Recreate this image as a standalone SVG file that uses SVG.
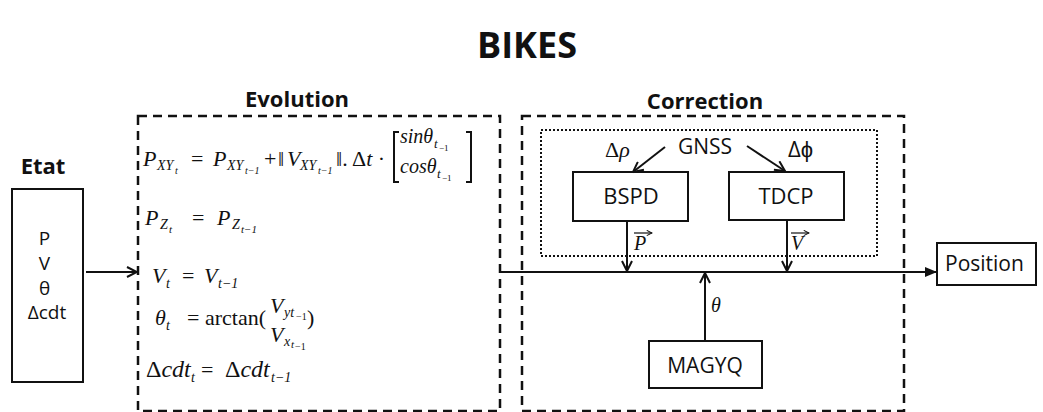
<svg xmlns="http://www.w3.org/2000/svg" width="1043" height="412" viewBox="0 0 1043 412">
<style>
.lbl{font-family:"Open Sans","Liberation Sans",sans-serif;fill:#111}
.hd{font-family:"Open Sans","Liberation Sans",sans-serif;font-weight:bold;fill:#111}
.m{font-family:"Liberation Serif","DejaVu Serif",serif;font-style:italic;fill:#111}
.mr{font-family:"Liberation Serif","DejaVu Serif",serif;fill:#111}
.box{fill:#fff;stroke:#111;stroke-width:2}
.dash{fill:none;stroke:#111;stroke-width:2.5;stroke-dasharray:9 6}
.dot{fill:none;stroke:#111;stroke-width:2;stroke-dasharray:2 2}
.ln{fill:none;stroke:#111;stroke-width:2}
</style>
<defs>
<marker id="open" viewBox="0 0 12 12" refX="11" refY="6" markerWidth="12" markerHeight="12" markerUnits="userSpaceOnUse" orient="auto">
<path d="M1,1 L11,6 L1,11" fill="none" stroke="#111" stroke-width="2"/>
</marker>
<marker id="fill" viewBox="0 0 12 12" refX="11" refY="6" markerWidth="12" markerHeight="12" markerUnits="userSpaceOnUse" orient="auto">
<path d="M0,1 L12,6 L0,11 Z" fill="#111"/>
</marker>
<marker id="small" viewBox="0 0 8 8" refX="7" refY="4" markerWidth="7" markerHeight="7" markerUnits="userSpaceOnUse" orient="auto">
<path d="M1,1 L7,4 L1,7" fill="none" stroke="#111" stroke-width="1.2"/>
</marker>
</defs>

<text class="hd" x="527" y="58" font-size="36" text-anchor="middle">BIKES</text>

<g id="etat">
<text class="hd" x="43" y="174" font-size="22" text-anchor="middle">Etat</text>
<rect class="box" x="12" y="189" width="71" height="193"/>
<text class="lbl" font-size="19" text-anchor="middle">
<tspan x="47" y="245">P</tspan>
<tspan x="47" y="270">V</tspan>
<tspan x="47" y="295">θ</tspan>
<tspan x="47" y="319">Δcdt</tspan>
</text>
</g>

<g id="evolution">
<text class="hd" x="297" y="107" font-size="22" text-anchor="middle">Evolution</text>
<rect class="dash" x="138" y="116" width="362" height="295"/>
<!-- line 1 -->
<text class="m" x="143" y="166" font-size="22">P</text>
<text class="m" x="157" y="170" font-size="14">XY</text>
<text class="m" x="175" y="174" font-size="10">t</text>
<text class="mr" x="191" y="166" font-size="22">=</text>
<text class="m" x="213" y="166" font-size="22">P</text>
<text class="m" x="227" y="170" font-size="14">XY</text>
<text class="m" x="245" y="174" font-size="10">t−1</text>
<text class="mr" x="264" y="166" font-size="22">+</text>
<text class="mr" x="278" y="166" font-size="22">‖</text>
<text class="m" x="287" y="166" font-size="22">V</text>
<text class="m" x="300" y="170" font-size="14">XY</text>
<text class="m" x="318" y="174" font-size="10">t−1</text>
<text class="mr" x="336" y="166" font-size="22">‖. Δ<tspan font-style="italic">t</tspan> ·</text>
<path class="ln" d="M399,132 H394 V182 H399" stroke-width="1.5"/>
<path class="ln" d="M466,132 H471 V182 H466" stroke-width="1.5"/>
<text class="m" x="400" y="143" font-size="20">sinθ</text>
<text class="m" x="434" y="148" font-size="13">t</text>
<text class="mr" x="439" y="151" font-size="9">−1</text>
<text class="m" x="400" y="173" font-size="20">cosθ</text>
<text class="m" x="437" y="178" font-size="13">t</text>
<text class="mr" x="442" y="181" font-size="9">−1</text>
<!-- line 2 -->
<text class="m" x="145" y="225" font-size="22">P</text>
<text class="m" x="160" y="229" font-size="14">Z</text>
<text class="m" x="169" y="233" font-size="11">t</text>
<text class="mr" x="192" y="225" font-size="22">=</text>
<text class="m" x="217" y="225" font-size="22">P</text>
<text class="m" x="232" y="229" font-size="14">Z</text>
<text class="m" x="241" y="233" font-size="11">t−1</text>
<!-- line 3 -->
<text class="m" x="152" y="283" font-size="22">V</text>
<text class="m" x="166" y="288" font-size="14">t</text>
<text class="mr" x="182" y="283" font-size="22">=</text>
<text class="m" x="204" y="283" font-size="22">V</text>
<text class="m" x="218" y="288" font-size="14">t−1</text>
<!-- line 4 -->
<text class="m" x="155" y="325" font-size="22">θ</text>
<text class="m" x="166" y="330" font-size="14">t</text>
<text class="mr" x="187" y="325" font-size="22">=</text>
<text class="mr" x="205" y="325" font-size="22">arctan(</text>
<text class="m" x="270" y="313" font-size="22">V</text>
<text class="m" x="284" y="317" font-size="14">yt</text>
<text class="mr" x="296" y="320" font-size="10">−1</text>
<text class="m" x="270" y="342" font-size="22">V</text>
<text class="m" x="284" y="346" font-size="14">x</text>
<text class="m" x="291" y="348" font-size="11">t</text>
<text class="mr" x="295" y="350" font-size="10">−1</text>
<text class="mr" x="307" y="325" font-size="22">)</text>
<!-- line 5 -->
<text class="mr" x="146" y="377" font-size="24">Δ<tspan font-style="italic">cdt</tspan></text>
<text class="m" x="191" y="382" font-size="14">t</text>
<text class="mr" x="201" y="377" font-size="22">=</text>
<text class="mr" x="225" y="377" font-size="24">Δ<tspan font-style="italic">cdt</tspan></text>
<text class="m" x="271" y="382" font-size="14">t−1</text>
</g>

<g id="correction">
<text class="hd" x="705" y="109" font-size="22" text-anchor="middle">Correction</text>
<rect class="dash" x="522" y="116" width="382" height="295"/>
<rect class="dot" x="541" y="130" width="336" height="126"/>
</g>

<g id="gnss">
<text class="lbl" x="705" y="154" font-size="21" text-anchor="middle">GNSS</text>
</g>

<g id="bspd">
<rect class="box" x="573" y="172" width="115" height="49"/>
<text class="lbl" x="631" y="204" font-size="22" text-anchor="middle">BSPD</text>
</g>

<g id="tdcp">
<rect class="box" x="729" y="172" width="115" height="48"/>
<text class="lbl" x="786" y="204" font-size="22" text-anchor="middle">TDCP</text>
</g>

<g id="magyq">
<rect class="box" x="649" y="341" width="113" height="47"/>
<text class="lbl" x="705" y="373" font-size="21" text-anchor="middle">MAGYQ</text>
</g>

<g id="position">
<rect class="box" x="937" y="243" width="99" height="42"/>
<text class="lbl" x="945" y="271" font-size="21">Position</text>
</g>

<g id="connectors">
<line class="ln" x1="86" y1="272" x2="137" y2="272" marker-end="url(#open)"/>
<line class="ln" x1="501" y1="272" x2="936" y2="272" marker-end="url(#fill)"/>
<line class="ln" x1="665" y1="147" x2="633" y2="172" marker-end="url(#open)"/>
<line class="ln" x1="747" y1="146" x2="785" y2="171" marker-end="url(#open)"/>
<line class="ln" x1="627" y1="221" x2="627" y2="271" marker-end="url(#open)"/>
<line class="ln" x1="787" y1="220" x2="787" y2="271" marker-end="url(#open)"/>
<line class="ln" x1="705" y1="341" x2="705" y2="273" marker-end="url(#open)"/>
<text class="mr" x="605" y="157" font-size="22">Δ<tspan font-style="italic">ρ</tspan></text>
<text class="lbl" x="788" y="157" font-size="22">Δϕ</text>
<text class="m" x="634" y="250" font-size="20">P</text>
<line x1="634" y1="233" x2="652" y2="233" stroke="#111" stroke-width="1.2" marker-end="url(#small)"/>
<text class="m" x="791" y="250" font-size="20">V</text>
<line x1="791" y1="233" x2="809" y2="233" stroke="#111" stroke-width="1.2" marker-end="url(#small)"/>
<text class="m" x="711" y="312" font-size="20">θ</text>
</g>
</svg>
